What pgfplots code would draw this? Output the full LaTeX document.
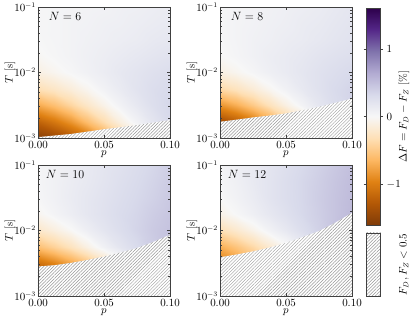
\documentclass[border=0pt]{standalone}
\usepackage{pgfplots}
\usepackage{pgfplotstable}
\pgfplotsset{compat=1.18}
\usetikzlibrary{patterns.meta}

% Delta F grid: p, L = log10(T/s), value (percent)
\pgfplotstableread{
p L v
0 -3 -1.55
0.0125 -3 -1.45
0.025 -3 -1.30
0.0375 -3 -1.10
0.05 -3 -0.80
0.0625 -3 -0.50
0.075 -3 -0.20
0.0875 -3 0.00
0.1 -3 0.15
0 -2.75 -1.20
0.0125 -2.75 -1.05
0.025 -2.75 -0.85
0.0375 -2.75 -0.60
0.05 -2.75 -0.35
0.0625 -2.75 -0.12
0.075 -2.75 0.06
0.0875 -2.75 0.20
0.1 -2.75 0.32
0 -2.5 -0.72
0.0125 -2.5 -0.58
0.025 -2.5 -0.40
0.0375 -2.5 -0.23
0.05 -2.5 -0.07
0.0625 -2.5 0.06
0.075 -2.5 0.17
0.0875 -2.5 0.27
0.1 -2.5 0.34
0 -2.25 -0.32
0.0125 -2.25 -0.24
0.025 -2.25 -0.14
0.0375 -2.25 -0.04
0.05 -2.25 0.06
0.0625 -2.25 0.14
0.075 -2.25 0.22
0.0875 -2.25 0.28
0.1 -2.25 0.32
0 -2 -0.10
0.0125 -2 -0.04
0.025 -2 0.02
0.0375 -2 0.07
0.05 -2 0.12
0.0625 -2 0.17
0.075 -2 0.21
0.0875 -2 0.25
0.1 -2 0.28
0 -1.75 -0.02
0.0125 -1.75 0.02
0.025 -1.75 0.05
0.0375 -1.75 0.08
0.05 -1.75 0.11
0.0625 -1.75 0.14
0.075 -1.75 0.17
0.0875 -1.75 0.20
0.1 -1.75 0.23
0 -1.5 0.01
0.0125 -1.5 0.03
0.025 -1.5 0.05
0.0375 -1.5 0.07
0.05 -1.5 0.09
0.0625 -1.5 0.11
0.075 -1.5 0.13
0.0875 -1.5 0.16
0.1 -1.5 0.18
0 -1.25 0.02
0.0125 -1.25 0.03
0.025 -1.25 0.05
0.0375 -1.25 0.06
0.05 -1.25 0.08
0.0625 -1.25 0.09
0.075 -1.25 0.11
0.0875 -1.25 0.13
0.1 -1.25 0.15
0 -1 0.02
0.0125 -1 0.03
0.025 -1 0.04
0.0375 -1 0.05
0.05 -1 0.06
0.0625 -1 0.08
0.075 -1 0.09
0.0875 -1 0.11
0.1 -1 0.13
}\dataA

\pgfplotstableread{
p L v
0 -3 -1.70
0.0125 -3 -1.60
0.025 -3 -1.50
0.0375 -3 -1.30
0.05 -3 -1.00
0.0625 -3 -0.70
0.075 -3 -0.40
0.0875 -3 -0.10
0.1 -3 0.10
0 -2.75 -1.40
0.0125 -2.75 -1.25
0.025 -2.75 -1.05
0.0375 -2.75 -0.80
0.05 -2.75 -0.50
0.0625 -2.75 -0.25
0.075 -2.75 0.00
0.0875 -2.75 0.16
0.1 -2.75 0.28
0 -2.5 -0.85
0.0125 -2.5 -0.70
0.025 -2.5 -0.50
0.0375 -2.5 -0.30
0.05 -2.5 -0.10
0.0625 -2.5 0.05
0.075 -2.5 0.19
0.0875 -2.5 0.29
0.1 -2.5 0.36
0 -2.25 -0.38
0.0125 -2.25 -0.28
0.025 -2.25 -0.16
0.0375 -2.25 -0.04
0.05 -2.25 0.07
0.0625 -2.25 0.16
0.075 -2.25 0.24
0.0875 -2.25 0.31
0.1 -2.25 0.36
0 -2 -0.10
0.0125 -2 -0.04
0.025 -2 0.03
0.0375 -2 0.09
0.05 -2 0.14
0.0625 -2 0.19
0.075 -2 0.24
0.0875 -2 0.28
0.1 -2 0.32
0 -1.75 -0.01
0.0125 -1.75 0.03
0.025 -1.75 0.07
0.0375 -1.75 0.11
0.05 -1.75 0.14
0.0625 -1.75 0.17
0.075 -1.75 0.21
0.0875 -1.75 0.24
0.1 -1.75 0.27
0 -1.5 0.01
0.0125 -1.5 0.04
0.025 -1.5 0.07
0.0375 -1.5 0.09
0.05 -1.5 0.12
0.0625 -1.5 0.14
0.075 -1.5 0.17
0.0875 -1.5 0.20
0.1 -1.5 0.23
0 -1.25 0.02
0.0125 -1.25 0.04
0.025 -1.25 0.06
0.0375 -1.25 0.08
0.05 -1.25 0.10
0.0625 -1.25 0.13
0.075 -1.25 0.15
0.0875 -1.25 0.18
0.1 -1.25 0.21
0 -1 0.02
0.0125 -1 0.04
0.025 -1 0.05
0.0375 -1 0.07
0.05 -1 0.09
0.0625 -1 0.11
0.075 -1 0.13
0.0875 -1 0.16
0.1 -1 0.19
}\dataB

\pgfplotstableread{
p L v
0 -3 -1.60
0.0125 -3 -1.50
0.025 -3 -1.40
0.0375 -3 -1.20
0.05 -3 -1.00
0.0625 -3 -0.70
0.075 -3 -0.40
0.0875 -3 -0.10
0.1 -3 0.20
0 -2.75 -1.40
0.0125 -2.75 -1.30
0.025 -2.75 -1.15
0.0375 -2.75 -0.95
0.05 -2.75 -0.70
0.0625 -2.75 -0.45
0.075 -2.75 -0.20
0.0875 -2.75 0.05
0.1 -2.75 0.25
0 -2.5 -1.10
0.0125 -2.5 -0.95
0.025 -2.5 -0.75
0.0375 -2.5 -0.55
0.05 -2.5 -0.30
0.0625 -2.5 -0.10
0.075 -2.5 0.12
0.0875 -2.5 0.30
0.1 -2.5 0.42
0 -2.25 -0.58
0.0125 -2.25 -0.44
0.025 -2.25 -0.28
0.0375 -2.25 -0.10
0.05 -2.25 0.07
0.0625 -2.25 0.20
0.075 -2.25 0.31
0.0875 -2.25 0.41
0.1 -2.25 0.48
0 -2 -0.22
0.0125 -2 -0.12
0.025 -2 -0.01
0.0375 -2 0.10
0.05 -2 0.20
0.0625 -2 0.28
0.075 -2 0.36
0.0875 -2 0.43
0.1 -2 0.48
0 -1.75 -0.04
0.0125 -1.75 0.04
0.025 -1.75 0.11
0.0375 -1.75 0.18
0.05 -1.75 0.24
0.0625 -1.75 0.30
0.075 -1.75 0.35
0.0875 -1.75 0.41
0.1 -1.75 0.46
0 -1.5 0.02
0.0125 -1.5 0.07
0.025 -1.5 0.13
0.0375 -1.5 0.18
0.05 -1.5 0.23
0.0625 -1.5 0.28
0.075 -1.5 0.33
0.0875 -1.5 0.38
0.1 -1.5 0.44
0 -1.25 0.03
0.0125 -1.25 0.07
0.025 -1.25 0.12
0.0375 -1.25 0.16
0.05 -1.25 0.21
0.0625 -1.25 0.26
0.075 -1.25 0.31
0.0875 -1.25 0.36
0.1 -1.25 0.42
0 -1 0.03
0.0125 -1 0.06
0.025 -1 0.11
0.0375 -1 0.15
0.05 -1 0.20
0.0625 -1 0.24
0.075 -1 0.29
0.0875 -1 0.34
0.1 -1 0.40
}\dataC

\pgfplotstableread{
p L v
0 -3 -1.30
0.0125 -3 -1.20
0.025 -3 -1.00
0.0375 -3 -0.80
0.05 -3 -0.50
0.0625 -3 -0.20
0.075 -3 0.10
0.0875 -3 0.30
0.1 -3 0.50
0 -2.75 -1.15
0.0125 -2.75 -1.05
0.025 -2.75 -0.85
0.0375 -2.75 -0.65
0.05 -2.75 -0.40
0.0625 -2.75 -0.15
0.075 -2.75 0.10
0.0875 -2.75 0.30
0.1 -2.75 0.50
0 -2.5 -1.00
0.0125 -2.5 -0.85
0.025 -2.5 -0.65
0.0375 -2.5 -0.45
0.05 -2.5 -0.25
0.0625 -2.5 -0.05
0.075 -2.5 0.15
0.0875 -2.5 0.35
0.1 -2.5 0.55
0 -2.25 -0.70
0.0125 -2.25 -0.55
0.025 -2.25 -0.38
0.0375 -2.25 -0.20
0.05 -2.25 -0.03
0.0625 -2.25 0.12
0.075 -2.25 0.28
0.0875 -2.25 0.42
0.1 -2.25 0.55
0 -2 -0.32
0.0125 -2 -0.20
0.025 -2 -0.07
0.0375 -2 0.06
0.05 -2 0.17
0.0625 -2 0.28
0.075 -2 0.38
0.0875 -2 0.47
0.1 -2 0.55
0 -1.75 -0.08
0.0125 -1.75 0.01
0.025 -1.75 0.09
0.0375 -1.75 0.17
0.05 -1.75 0.25
0.0625 -1.75 0.33
0.075 -1.75 0.40
0.0875 -1.75 0.47
0.1 -1.75 0.54
0 -1.5 0.00
0.0125 -1.5 0.06
0.025 -1.5 0.13
0.0375 -1.5 0.21
0.05 -1.5 0.28
0.0625 -1.5 0.34
0.075 -1.5 0.41
0.0875 -1.5 0.47
0.1 -1.5 0.53
0 -1.25 0.03
0.0125 -1.25 0.08
0.025 -1.25 0.15
0.0375 -1.25 0.21
0.05 -1.25 0.28
0.0625 -1.25 0.34
0.075 -1.25 0.40
0.0875 -1.25 0.46
0.1 -1.25 0.52
0 -1 0.04
0.0125 -1 0.09
0.025 -1 0.14
0.0375 -1 0.20
0.05 -1 0.26
0.0625 -1 0.32
0.075 -1 0.38
0.0875 -1 0.44
0.1 -1 0.50
}\dataD

% lower edge of the region where F_D, F_Z >= 0.5 (p, log10 T)
\pgfplotstableread{
p L
0 -2.987
0.0125 -2.963
0.025 -2.939
0.0375 -2.903
0.05 -2.866
0.0625 -2.836
0.075 -2.804
0.0875 -2.764
0.1 -2.726
0.1 -3.05
0 -3.05
}\bndA
\pgfplotstableread{
p L
0 -2.752
0.0125 -2.721
0.025 -2.686
0.0375 -2.658
0.05 -2.625
0.0625 -2.577
0.075 -2.524
0.0875 -2.462
0.1 -2.398
0.1 -3.05
0 -3.05
}\bndB
\pgfplotstableread{
p L
0 -2.550
0.0125 -2.530
0.025 -2.495
0.0375 -2.450
0.05 -2.398
0.0625 -2.337
0.075 -2.268
0.0875 -2.174
0.1 -2.066
0.1 -3.05
0 -3.05
}\bndC
\pgfplotstableread{
p L
0 -2.409
0.0125 -2.367
0.025 -2.319
0.0375 -2.260
0.05 -2.190
0.0625 -2.102
0.075 -2.009
0.0875 -1.879
0.1 -1.730
0.1 -3.05
0 -3.05
}\bndD

% colour bar strip: position across, value
\pgfplotstableread{
x y
0 -1.6
1 -1.6
0 1.6
1 1.6
}\cbar

\pgfplotsset{
  colormap={PuOr}{rgb255=(127,59,8) rgb255=(179,88,6) rgb255=(224,130,20)
    rgb255=(253,184,99) rgb255=(254,224,182) rgb255=(247,247,247)
    rgb255=(216,218,235) rgb255=(178,171,210) rgb255=(128,115,172)
    rgb255=(84,39,136) rgb255=(45,0,75)},
  hatch/.style={draw=none, fill=white,
    postaction={pattern={Lines[angle=45,distance=2.3pt,line width=0.45pt]}, pattern color=black!40}},
  panel/.style={
    scale only axis, width=132pt, height=131pt, anchor=south west,
    xmin=0, xmax=0.1, ymin=-3, ymax=-1,
    xtick={0,0.05,0.1}, ytick={-3,-2,-1},
    yticklabels={$10^{-3}$,$10^{-2}$,$10^{-1}$},
    minor ytick={-2.69897,-2.52288,-2.39794,-2.30103,-2.22185,-2.15490,-2.09691,-2.04576,
                 -1.69897,-1.52288,-1.39794,-1.30103,-1.22185,-1.15490,-1.09691,-1.04576},
    scaled x ticks=false,
    xticklabel style={/pgf/number format/.cd, fixed, fixed zerofill, precision=2},
    yticklabel style={xshift=1.5pt},
    tick align=inside, major tick length=3pt, minor tick length=1.8pt,
    axis line style={black!75, line width=0.6pt},
    every tick/.style={black!75, line width=0.5pt},
    colormap name=PuOr, point meta min=-1.6, point meta max=1.6,
    axis on top,
    tick label style={font=\fontsize{10.5}{12}\selectfont},
    label style={font=\fontsize{10.5}{12}\selectfont},
    xlabel={$p$},
    xlabel style={at={(axis description cs:0.5,-0.125)}, anchor=center},
    ylabel={$T$ [s]},
    ylabel style={at={(axis description cs:-0.212,0.5)}, anchor=center},
  },
}
\tikzset{nlab/.style={anchor=base, font=\fontsize{12}{14}\selectfont}}

\begin{document}
\begin{tikzpicture}
\path[use as bounding box] (0pt,0pt) rectangle (416pt,320pt);

\begin{axis}[panel, at={(38pt,182pt)}]
\addplot[surf, shader=interp, mesh/cols=9, mesh/rows=9, point meta=\thisrow{v}] table[x=p, y=L] {\dataA};
\addplot[hatch] table[x=p, y=L] {\bndA};
\node[nlab] at (axis description cs:0.205,0.897) {$N=6$};
\end{axis}

\begin{axis}[panel, at={(220pt,182pt)}]
\addplot[surf, shader=interp, mesh/cols=9, mesh/rows=9, point meta=\thisrow{v}] table[x=p, y=L] {\dataB};
\addplot[hatch] table[x=p, y=L] {\bndB};
\node[nlab] at (axis description cs:0.205,0.897) {$N=8$};
\end{axis}

\begin{axis}[panel, at={(38pt,24pt)}]
\addplot[surf, shader=interp, mesh/cols=9, mesh/rows=9, point meta=\thisrow{v}] table[x=p, y=L] {\dataC};
\addplot[hatch] table[x=p, y=L] {\bndC};
\node[nlab] at (axis description cs:0.205,0.897) {$N=10$};
\end{axis}

\begin{axis}[panel, at={(220pt,24pt)}]
\addplot[surf, shader=interp, mesh/cols=9, mesh/rows=9, point meta=\thisrow{v}] table[x=p, y=L] {\dataD};
\addplot[hatch] table[x=p, y=L] {\bndD};
\node[nlab] at (axis description cs:0.205,0.897) {$N=12$};
\end{axis}

% colour bar
\begin{axis}[at={(366pt,95pt)}, anchor=south west, scale only axis,
  width=14.7pt, height=216.7pt, xmin=0, xmax=1, ymin=-1.6, ymax=1.6,
  xtick=\empty, ytick={-1,0,1}, yticklabel pos=right,
  tick align=outside, major tick length=2.5pt, axis on top,
  axis line style={black!75, line width=0.6pt},
  every tick/.style={black!75, line width=0.5pt},
  tick label style={font=\fontsize{10.5}{12}\selectfont},
  colormap name=PuOr, point meta min=-1.6, point meta max=1.6,
  ylabel={$\Delta F = F_D - F_Z$ [\%]},
  ylabel style={at={(axis description cs:2.585,0.5)}, anchor=center,
    font=\fontsize{10.5}{12}\selectfont}]
\addplot[surf, shader=interp, mesh/cols=2, mesh/rows=2, point meta=\thisrow{y}] table[x=x, y=y] {\cbar};
\end{axis}

% hatched key box
\begin{axis}[at={(366pt,24pt)}, anchor=south west, scale only axis,
  width=14.7pt, height=63pt, xmin=0, xmax=1, ymin=0, ymax=1,
  xtick=\empty, ytick=\empty, axis on top,
  axis line style={black!75, line width=0.6pt},
  ylabel={$F_D, F_Z < 0.5$},
  ylabel style={at={(axis description cs:2.585,0.5)}, anchor=center,
    font=\fontsize{10.5}{12}\selectfont}]
\addplot[hatch] coordinates {(0,0) (1,0) (1,1) (0,1)};
\end{axis}
\end{tikzpicture}
\end{document}
